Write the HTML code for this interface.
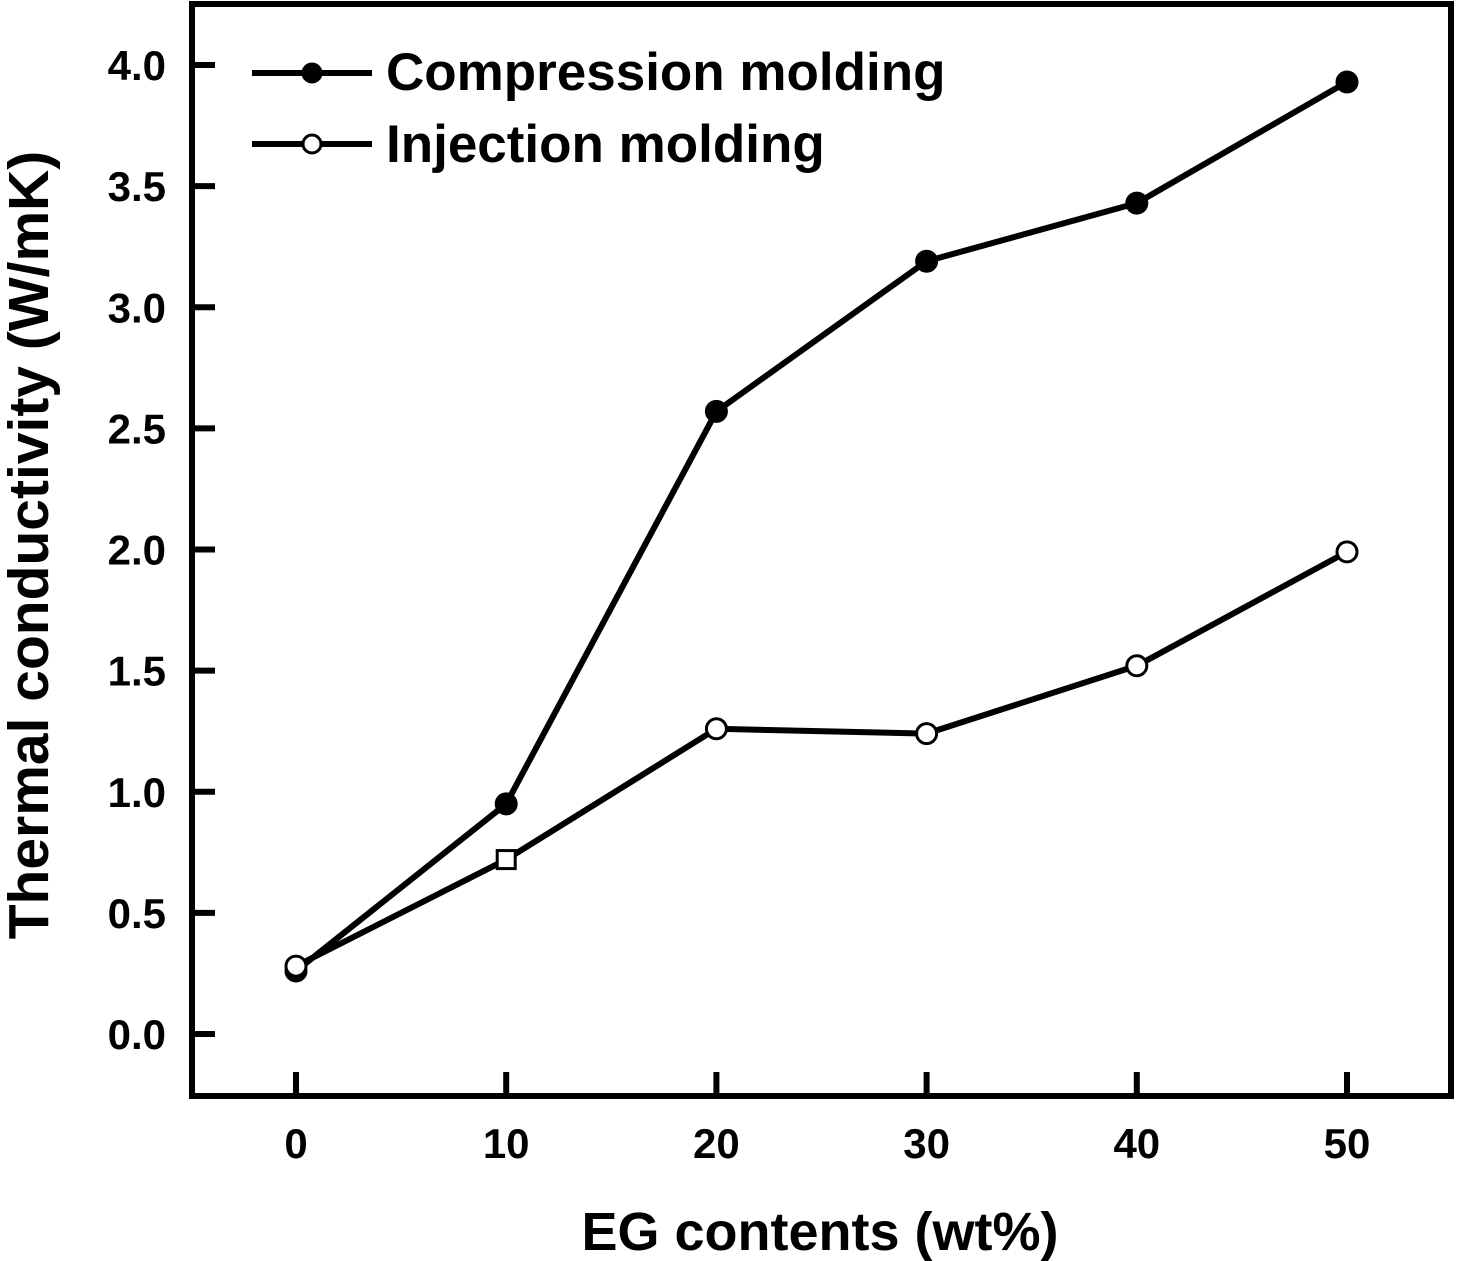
<!DOCTYPE html>
<html><head><meta charset="utf-8"><style>
body{margin:0;background:#fff}
svg{display:block}
text{font-family:"Liberation Sans",Arial,sans-serif;fill:#000}
</style></head><body>
<svg id="chart" width="1457" height="1261" xmlns="http://www.w3.org/2000/svg">
<g id="axes"></g>
<g id="series"></g>
<g id="legend">
  <line x1="252" y1="73" x2="372" y2="73" stroke="#000" stroke-width="6"/>
  <circle cx="312" cy="73" r="9" fill="#000" stroke="#000" stroke-width="3"/>
  <text x="386" y="90" font-size="53" font-weight="bold">Compression molding</text>
  <line x1="252" y1="144" x2="372" y2="144" stroke="#000" stroke-width="6"/>
  <circle cx="312" cy="144" r="9" fill="#fff" stroke="#000" stroke-width="3"/>
  <text x="386" y="162" font-size="53" font-weight="bold">Injection molding</text>
</g>
<text x="820" y="1250" font-size="54" font-weight="bold" text-anchor="middle">EG contents (wt%)</text>
<text transform="translate(48,545) rotate(-90)" font-size="57" font-weight="bold" text-anchor="middle">Thermal conductivity (W/mK)</text>
</svg>
<script>
const categories=[0,10,20,30,40,50];
const compression=[0.26,0.95,2.57,3.19,3.43,3.93];
const injection=[0.28,0.72,1.26,1.24,1.52,1.99];
const yTicks=["0.0","0.5","1.0","1.5","2.0","2.5","3.0","3.5","4.0"];
const xTicks=["0","10","20","30","40","50"];
const NS="http://www.w3.org/2000/svg";
const xs=v=>296+(v/50)*1051;
const ys=v=>1034-v*242.25;
function mk(tag,attrs,parent){const e=document.createElementNS(NS,tag);for(const k in attrs)e.setAttribute(k,attrs[k]);parent.appendChild(e);return e;}
const axes=document.getElementById('axes');
const fr=mk('rect',{x:192,y:4,width:1259,height:1092,fill:'none',stroke:'#000','stroke-width':6},axes);


yTicks.forEach(t=>{const y=ys(parseFloat(t));
 const l=mk('line',{x1:192,y1:y,x2:215,y2:y,stroke:'#000','stroke-width':6},axes);
 
 
 const tx=mk('text',{x:166,y:y+15,'font-size':42,'font-weight':'bold','text-anchor':'end'},axes);tx.textContent=t;
 
 
});
xTicks.forEach(t=>{const x=xs(parseFloat(t));
 const l=mk('line',{x1:x,y1:1096,x2:x,y2:1072,stroke:'#000','stroke-width':6},axes);
 
 
 const tx=mk('text',{x:x,y:1158,'font-size':42,'font-weight':'bold','text-anchor':'middle'},axes);tx.textContent=t;
 
 
});
const ser=document.getElementById('series');
function draw(vals,fill,name){
 const p=mk('polyline',{points:vals.map((v,i)=>xs(categories[i])+','+ys(v)).join(' '),fill:'none',stroke:'#000','stroke-width':6},ser);
 
 
 vals.forEach((v,i)=>{let m;
  if(name==='injection'&&i===1){m=mk('rect',{x:xs(categories[i])-9,y:ys(v)-9,width:18,height:18,fill:fill,stroke:'#000','stroke-width':3},ser);}
  else m=mk('circle',{cx:xs(categories[i]),cy:ys(v),r:10,fill:fill,stroke:'#000','stroke-width':3},ser);
  
  
 });
}
draw(compression,'#000','compression');
draw(injection,'#fff','injection');
</script>
</body></html>
